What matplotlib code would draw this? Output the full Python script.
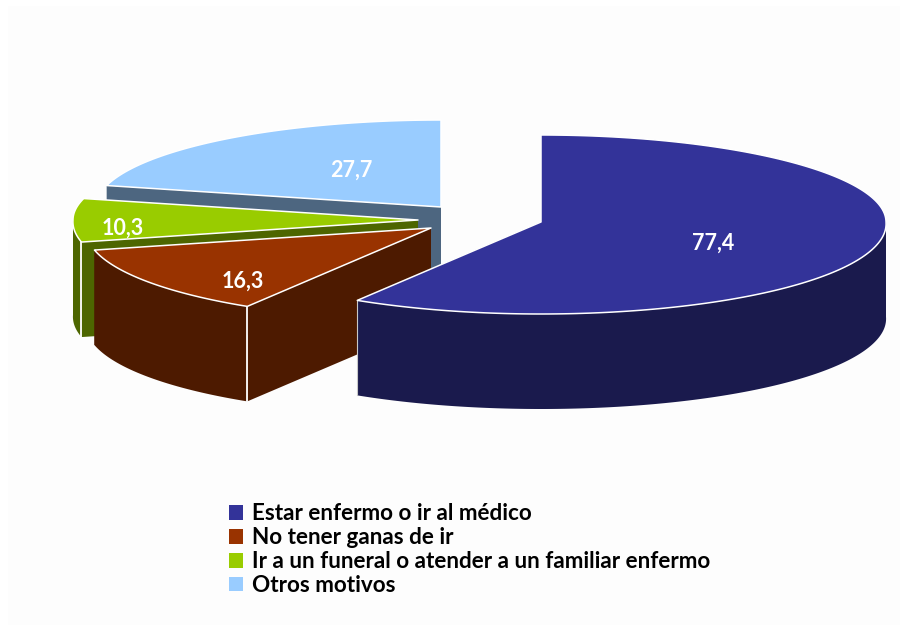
#!/usr/bin/env python3

import numpy as np
import matplotlib
matplotlib.use('Agg')
import matplotlib.pyplot as plt
from matplotlib.patches import Patch, Rectangle

categories = ['Estar enfermo o ir al médico', 'No tener ganas de ir',
              'Ir a un funeral o atender a un familiar enfermo', 'Otros motivos']
values = [77.4, 16.3, 10.3, 27.7]
value_labels = ['77,4', '16,3', '10,3', '27,7']

top_colors = ['#333399', '#993300', '#99cc00', '#99ccff']
wall_colors = ['#1a1a4d', '#4d1a00', '#4d6600', '#4d6680']

# layout in pixels of the picture: exploded slice centres, ellipse, label spots
centers = [(541, 222), (431, 228), (418, 220), (441, 207)]
label_pos = [(713, 243), (243, 281), (123, 228), (351, 170)]
rx, ry_back, ry_front, depth = 345, 87, 92, 95
widen = 0.02  # front of the pie is a little wider, perspective

fig = plt.figure(figsize=(9.07, 6.32), dpi=100)
ax = fig.add_axes([0, 0, 1, 1])
ax.set_xlim(0, 907)
ax.set_ylim(632, 0)
ax.axis('off')
ax.add_patch(Rectangle((8, 6), 892, 619, fc='#fdfdfd', ec='none', zorder=0))

# angles go clockwise from 12 o'clock
angles = 90 - np.cumsum([0] + values) / sum(values) * 360


def arc(i, a, b):
    t = np.radians(np.linspace(a, b, 200))
    cx, cy = centers[i]
    s = np.sin(t)
    x = cx + rx * np.cos(t) * (1 + widen * np.maximum(-s, 0))
    y = cy - np.where(s > 0, ry_back, ry_front) * s
    return x, y


# back to front
for z, i in enumerate([3, 2, 1, 0]):
    cx, cy = centers[i]
    a, b = angles[i], angles[i + 1]
    x, y = arc(i, a, b)
    base = 10 + z * 10

    # the two cut faces
    for ex, ey in [(x[0], y[0]), (x[-1], y[-1])]:
        ax.fill([cx, ex, ex, cx], [cy, ey, ey + depth, cy + depth],
                color=wall_colors[i], lw=0, zorder=base)

    # outer wall, only the front half of the ellipse shows
    lo, hi = max(b, -180), min(a, 0)
    if lo < hi:
        wx, wy = arc(i, lo, hi)
        ax.fill(np.r_[wx, wx[::-1]], np.r_[wy, wy[::-1] + depth],
                color=wall_colors[i], lw=0, zorder=base + 1)

    # top face
    ax.fill(np.r_[cx, x], np.r_[cy, y], fc=top_colors[i], ec='white', lw=1.1,
            joinstyle='round', zorder=base + 2)

    # light line on the front corner of the wall
    if i in (1, 2):
        ax.plot([x[0], x[0]], [y[0], y[0] + depth], color='white', lw=1.3,
                zorder=base + 1.5)
    if i == 0:
        ax.plot([x[-1], x[-1]], [y[-1], y[-1] + depth], color='#c8c8c8', lw=0.8,
                zorder=base + 1.5)

    ax.text(label_pos[i][0], label_pos[i][1], value_labels[i], color='white',
            family='Lato', weight='bold', fontsize=15.5, ha='center', va='center',
            zorder=60)

handles = [Patch(fc=c, ec='none') for c in top_colors]
ax.legend(handles, categories, loc='upper left', bbox_to_anchor=(229, 503.5),
          bbox_transform=ax.transData, frameon=False, borderpad=0, borderaxespad=0,
          handlelength=0.6, handleheight=0.6, handletextpad=0.4, labelspacing=0.13,
          prop={'family': 'Lato', 'weight': 'bold', 'size': 16.2})

fig.savefig('out.png', dpi=100)
